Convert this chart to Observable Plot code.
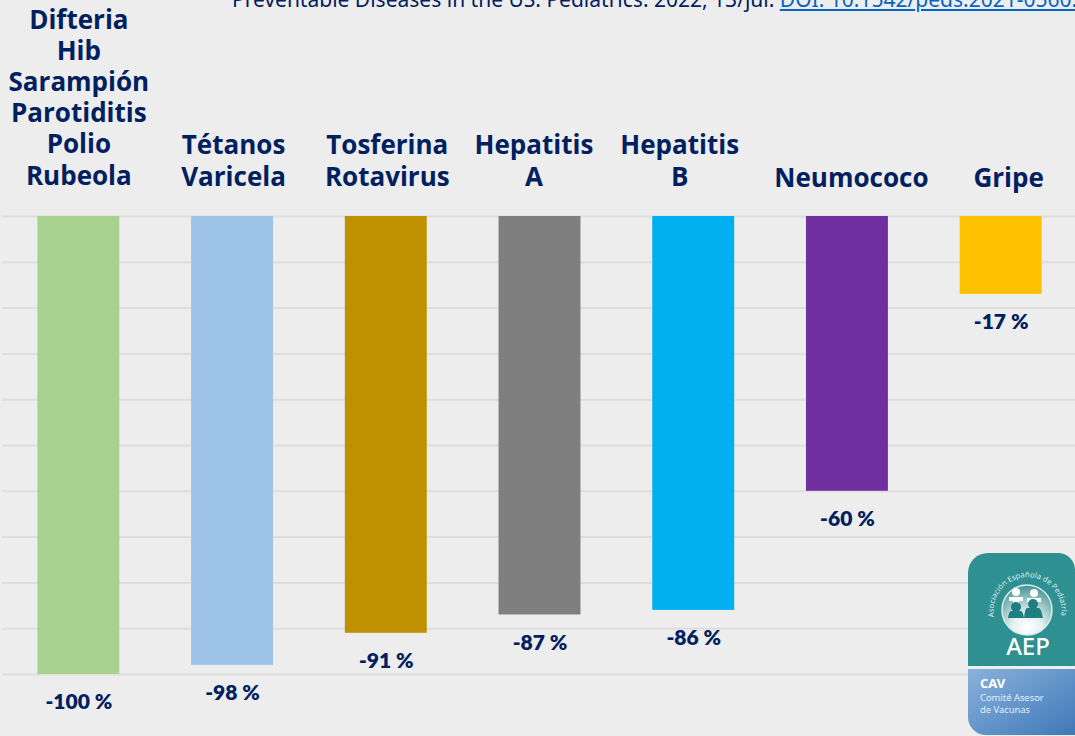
<!DOCTYPE html>
<html lang="es">
<head>
<meta charset="utf-8">
<script src="https://cdn.jsdelivr.net/npm/d3@7"></script>
<script src="https://cdn.jsdelivr.net/npm/@observablehq/plot@0.6"></script>
<style>
html,body{margin:0;padding:0;background:#ededed;overflow:hidden;width:1075px;height:736px}
#wrap{position:relative;width:1075px;height:736px;overflow:hidden}
#ref{position:absolute;left:232px;top:-15px;font:21px "Noto Sans",sans-serif;color:#002060;white-space:nowrap}
#ref a{color:#0563c1;text-decoration:underline}
#logo{position:absolute;left:968px;top:553px}
svg{display:block}
</style>
</head>
<body>
<div id="wrap">
<div id="chart"></div>
<div id="ref">Preventable Diseases in the US. Pediatrics. 2022, 13/jul. <a>DOI: 10.1542/peds.2021-0560.</a></div>
<svg id="logo" width="107" height="183" viewBox="0 0 107 183">
<defs>
<linearGradient id="blue" x1="0" y1="0" x2="1" y2="1"><stop offset="0" stop-color="#8ab2dc"/><stop offset="1" stop-color="#3f78b8"/></linearGradient>
<radialGradient id="ball" cx="0.5" cy="0.85" r="0.85"><stop offset="0" stop-color="#ffffff"/><stop offset="0.35" stop-color="#e4f0ef"/><stop offset="1" stop-color="#3f9292"/></radialGradient>
<path id="arc" d="M 26 64 A 34 34 0 1 1 93 64"/>
</defs>
<path d="M0 113V20A20 20 0 0 1 20 0H90A17 17 0 0 1 107 17V113Z" fill="#2e9090"/>
<path d="M0 116H107V182H18A18 18 0 0 1 0 164Z" fill="url(#blue)"/>
<circle cx="59" cy="57" r="25" fill="url(#ball)" stroke="#d8ecea" stroke-width="1.5"/>
<g fill="#ffffff">
<circle cx="48" cy="39" r="4"/><path d="M41 44h14v4h-4v4h-6v-4h-4z"/>
<circle cx="66" cy="40" r="4"/><path d="M59 45h14v4h-4v4h-6v-4h-4z"/>
</g>
<g fill="#1f7f80">
<circle cx="48" cy="54" r="5"/><path d="M40 65q1-7 3-7h10q2 0 3 7z"/>
<circle cx="65" cy="51" r="5"/><path d="M56 65q1-10 3-10h12q2 0 4 10z"/>
</g>
<text font-family="Noto Sans" font-size="7.6" fill="#d9eeec"><textPath href="#arc" textLength="117">Asociación Española de Pediatría</textPath></text>
<text x="60" y="102" text-anchor="middle" font-family="Noto Sans" font-size="24" font-weight="500" fill="#ffffff">AEP</text>
<text x="12" y="135" font-family="Noto Sans" font-size="13" font-weight="700" fill="#ffffff">CAV</text>
<text x="12" y="148" font-family="Noto Sans" font-size="9.4" fill="#e6eff8">Comité Asesor</text>
<text x="12" y="160" font-family="Noto Sans" font-size="9.4" fill="#e6eff8">de Vacunas</text>
</svg>
</div>
<script>
const categories = ["Difteria\nHib\nSarampión\nParotiditis\nPolio\nRubeola","Tétanos\nVaricela","Tosferina\nRotavirus","Hepatitis\nA","Hepatitis\nB","Neumococo","Gripe"];
const values = [-100,-98,-91,-87,-86,-60,-17];
const colors = ["#A9D18E","#9DC3E6","#BF9000","#7F7F7F","#00B0F0","#7030A0","#FFC000"];
const gridTicks = [0,-10,-20,-30,-40,-50,-60,-70,-80,-90,-100];
const labelShift = [0,1,1,-6,-14,4,7.5];
const labelLift = [-32,-31,-31,-31,-31,-30,-30];
const navy = "#002060";
const rows = categories.map((category,i)=>({category,value:values[i]}));
const labelMarks = rows.map((r,i)=>Plot.text([r],{
  x:"category",y:()=>0,text:"category",dx:labelShift[i],dy:labelLift[i],
  fontFamily:"'Open Sans',sans-serif",fontWeight:700,fontSize:26,fill:navy,lineHeight:1.2,lineAnchor:"bottom"
}));
const chart = Plot.plot({
  width:1075,height:736,marginLeft:2,marginRight:0,marginTop:216,marginBottom:62,
  style:{background:"#ededed",overflow:"visible"},
  x:{type:"band",domain:categories,range:[1.5,1077.5],paddingInner:0.467,paddingOuter:0.2335,round:false,axis:null},
  y:{domain:[-100,0],range:[674,216],axis:null},
  color:{domain:categories,range:colors},
  marks:[
    Plot.ruleY(gridTicks,{stroke:"#dedede",strokeWidth:2}),
    Plot.barY(rows,{x:"category",y1:()=>0,y2:"value",fill:"category"}),
    ...labelMarks,
    Plot.text(rows,{x:"category",y:"value",text:d=>d.value+" %",dy:28,fontFamily:"Lato,sans-serif",fontWeight:800,fontSize:21,fill:navy})
  ]
});
document.getElementById("chart").append(chart);
</script>
</body>
</html>
